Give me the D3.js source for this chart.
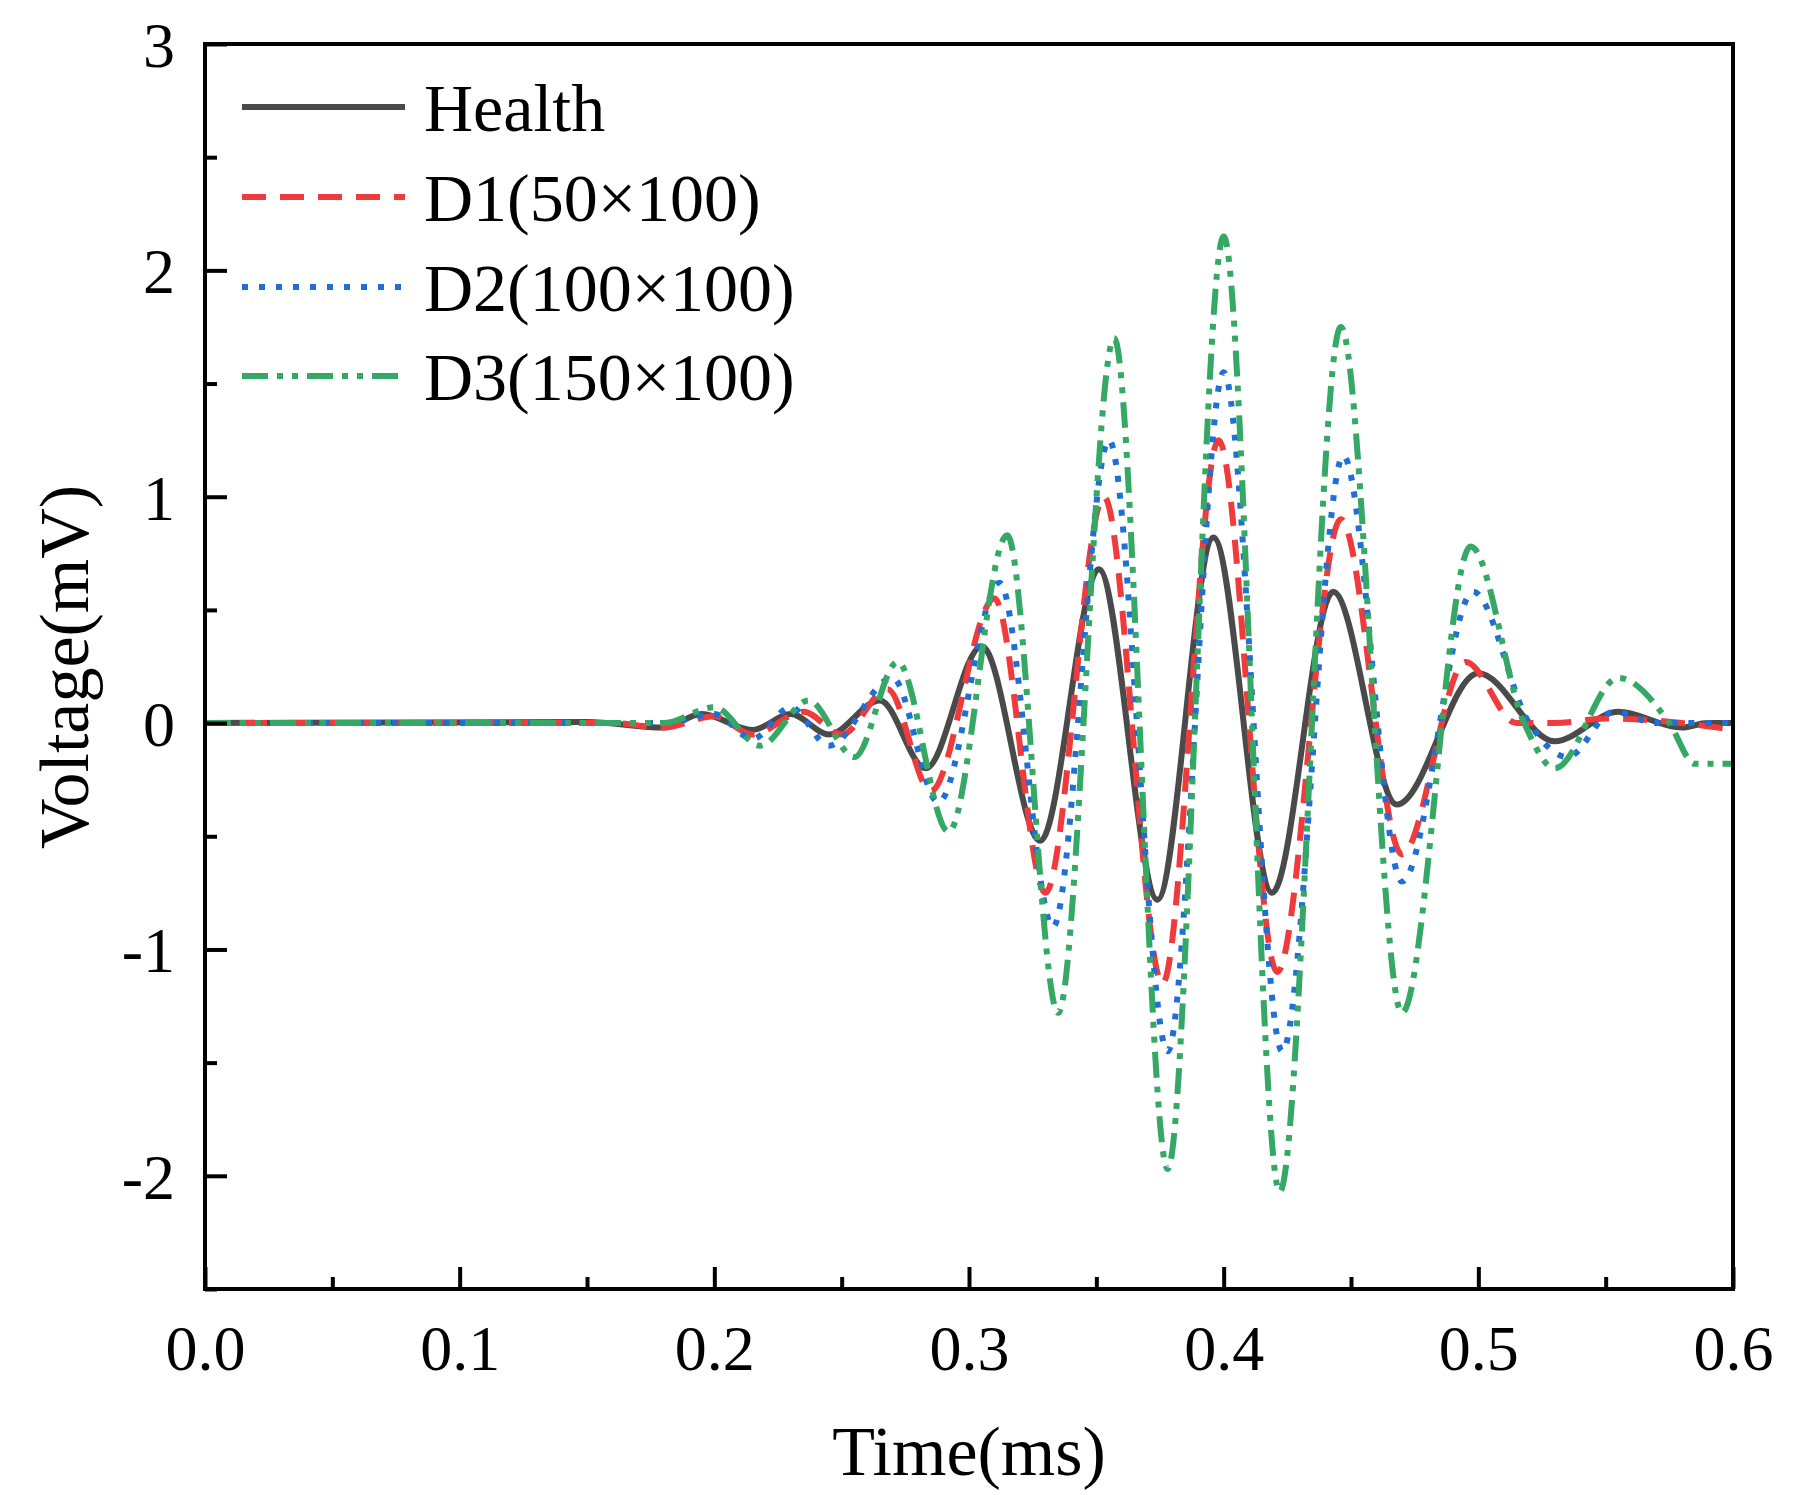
<!DOCTYPE html><html><head><meta charset="utf-8"><script src="https://d3js.org/d3.v7.min.js"></script>
<style>body{margin:0;background:#fff}svg{font-family:"Liberation Serif","Times New Roman",serif}</style></head><body>
<svg id="c" width="1795" height="1495"></svg>
<script>
const seriesNames=["Health","D1(50×100)","D2(100×100)","D3(150×100)"];
const colors=["#4a4a4a","#ef3b3b","#1f6fd6","#35a866"];
const dashes=[null,"24,14","6,11","26,9,6,9,6,9"];
const health=[[0,0],[0.15,0.005],[0.18,-0.02],[0.195,0.04],[0.215,-0.03],[0.23,0.04],[0.245,-0.05],[0.265,0.1],[0.283,-0.2],[0.305,0.34],[0.328,-0.52],[0.351,0.68],[0.374,-0.78],[0.396,0.82],[0.419,-0.75],[0.443,0.58],[0.468,-0.36],[0.5,0.22],[0.53,-0.08],[0.555,0.05],[0.58,-0.02],[0.59,0],[0.6,0]];
const d1=[[0,0],[0.16,0],[0.18,-0.02],[0.2,0.03],[0.215,-0.05],[0.235,0.05],[0.25,-0.05],[0.268,0.15],[0.285,-0.3],[0.31,0.55],[0.33,-0.75],[0.353,1.0],[0.376,-1.15],[0.398,1.25],[0.421,-1.1],[0.446,0.9],[0.47,-0.58],[0.495,0.27],[0.515,0],[0.53,0],[0.55,0.02],[0.58,0],[0.6,-0.03]];
const d2=[[0,0],[0.18,0],[0.2,0.04],[0.215,-0.07],[0.23,0.07],[0.245,-0.1],[0.27,0.2],[0.288,-0.35],[0.312,0.62],[0.333,-0.9],[0.355,1.25],[0.378,-1.45],[0.4,1.55],[0.423,-1.45],[0.447,1.18],[0.47,-0.7],[0.498,0.58],[0.52,0],[0.535,-0.15],[0.553,0.05],[0.57,0],[0.6,0]];
const d3v=[[0,0],[0.18,0],[0.2,0.07],[0.218,-0.1],[0.237,0.1],[0.255,-0.15],[0.272,0.27],[0.292,-0.48],[0.315,0.83],[0.335,-1.28],[0.357,1.7],[0.378,-1.97],[0.4,2.15],[0.422,-2.07],[0.446,1.75],[0.47,-1.28],[0.497,0.78],[0.518,0],[0.53,-0.2],[0.555,0.2],[0.575,0],[0.585,-0.18],[0.6,-0.18]];
const xTicks=[0,0.1,0.2,0.3,0.4,0.5,0.6];
const yTicks=[-2,-1,0,1,2,3];
const all=[health,d1,d2,d3v];
const L=205,R=1733,T=44,B=1289;
const svg=d3.select("#c");
const x=d3.scaleLinear().domain([0,0.6]).range([L,R]);
const y=d3.scaleLinear().domain([-2.5,3]).range([B,T]);
const line=d3.line().x(d=>x(d[0])).y(d=>y(d[1])).curve(d3.curveMonotoneX);
const g=svg.append("g");
all.forEach((s,i)=>{g.append("path").attr("d",line(s)).attr("fill","none").attr("stroke",colors[i]).attr("stroke-width",6).attr("stroke-dasharray",dashes[i]);});
svg.append("rect").attr("x",L).attr("y",T).attr("width",R-L).attr("height",B-T).attr("fill","none").attr("stroke","#000").attr("stroke-width",4);
const xa=svg.append("g").attr("transform",`translate(0,${B})`).call(d3.axisBottom(x).tickValues(xTicks).tickFormat(d3.format(".1f")).tickSize(-22).tickPadding(36));
const xm=svg.append("g").attr("transform",`translate(0,${B})`).call(d3.axisBottom(x).tickValues(d3.range(0.05,0.6,0.1)).tickFormat("").tickSize(-12));
const ya=svg.append("g").attr("transform",`translate(${L},0)`).call(d3.axisLeft(y).tickValues(yTicks).tickFormat(d=>d).tickSize(-22).tickPadding(30));
const ym=svg.append("g").attr("transform",`translate(${L},0)`).call(d3.axisLeft(y).tickValues([-2.5,-1.5,-0.5,0.5,1.5,2.5]).tickFormat("").tickSize(-12));
[xa,xm,ya,ym].forEach(a=>{a.select(".domain").remove();a.selectAll("line").attr("stroke","#000").attr("stroke-width",4);a.selectAll("text").attr("font-size",64).attr("fill","#000").attr("font-family","Liberation Serif");});
ya.selectAll("text").attr("dy","0.35em");
svg.append("text").attr("x",(L+R)/2).attr("y",1475).attr("text-anchor","middle").attr("font-size",70).text("Time(ms)");
svg.append("text").attr("transform","translate(88,667) rotate(-90)").attr("text-anchor","middle").attr("font-size",70).text("Voltage(mV)");
const ly=[107,197,287,376];
seriesNames.forEach((n,i)=>{
 svg.append("line").attr("x1",242).attr("x2",405).attr("y1",ly[i]).attr("y2",ly[i]).attr("stroke",colors[i]).attr("stroke-width",6).attr("stroke-dasharray",dashes[i]);
 svg.append("text").attr("x",424).attr("y",ly[i]).attr("dy","0.35em").attr("font-size",68).text(n);
});
</script></body></html>
